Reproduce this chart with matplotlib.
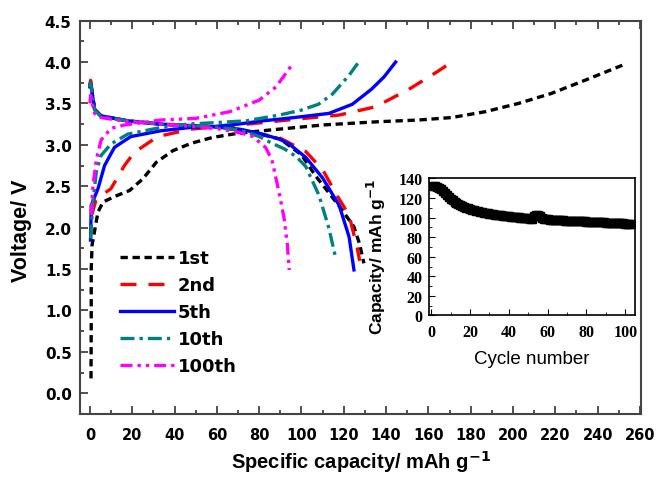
import matplotlib
matplotlib.use("Agg")
import matplotlib.pyplot as plt
from matplotlib.ticker import MultipleLocator

plt.rcParams['font.family'] = ['Liberation Sans', 'DejaVu Sans']
plt.rcParams['mathtext.default'] = 'bf'

# 충방전 곡선 데이터
cap_1st_c = [0.5, 0.6, 0.6, 1.0, 3.8, 6.2, 12, 18.8, 25, 31.4, 39.2, 48, 58, 70, 81.5, 89.5, 110, 136.6, 155.4, 171, 186.8, 202.5, 218, 234, 253.5]
v_1st_c = [0.18, 0.8, 1.5, 1.79, 2.19, 2.31, 2.38, 2.45, 2.59, 2.79, 2.93, 3.02, 3.09, 3.14, 3.17, 3.19, 3.24, 3.28, 3.30, 3.33, 3.40, 3.50, 3.62, 3.78, 3.98]
cap_1st_d = [0, 0.3, 2.2, 5.2, 17.9, 33.5, 58, 73.8, 90, 100, 106.8, 113, 119, 124.8, 127.5, 129.5]
v_1st_d = [3.7, 3.76, 3.43, 3.35, 3.29, 3.25, 3.22, 3.17, 3.07, 2.88, 2.62, 2.42, 2.22, 2.01, 1.8, 1.57]

cap_2nd_c = [0.8, 2.8, 6, 9.9, 16.3, 21, 32, 47.6, 66, 82, 97.4, 117.8, 135, 150.7, 164, 171]
v_2nd_c = [2.15, 2.33, 2.4, 2.47, 2.75, 2.91, 3.1, 3.19, 3.23, 3.27, 3.31, 3.36, 3.46, 3.67, 3.88, 4.0]
cap_2nd_d = [0, 0.3, 2.2, 5.2, 17.9, 33.5, 58, 73.8, 90, 102, 110, 117, 122.5, 126.4, 127.5]
v_2nd_d = [3.72, 3.78, 3.43, 3.35, 3.29, 3.25, 3.22, 3.17, 3.08, 2.92, 2.7, 2.38, 2.15, 1.75, 1.6]

cap_5th_c = [0.3, 0.6, 3.8, 6.9, 11.6, 19.3, 33.5, 47.6, 58, 70, 81.5, 89.5, 100, 113, 124, 133, 139, 144.5]
v_5th_c = [1.85, 2.27, 2.47, 2.75, 2.97, 3.1, 3.17, 3.21, 3.22, 3.25, 3.29, 3.31, 3.34, 3.38, 3.49, 3.67, 3.82, 4.0]
cap_5th_d = [0, 0.3, 2.2, 5.2, 17.9, 33.5, 58, 70.7, 80, 89.5, 94.2, 102, 110, 117.8, 122.5, 124.8]
v_5th_d = [3.7, 3.75, 3.43, 3.35, 3.29, 3.25, 3.22, 3.19, 3.14, 3.07, 3.01, 2.85, 2.6, 2.27, 1.89, 1.49]

cap_10th_c = [0.3, 1.4, 3, 5.2, 9.9, 17.9, 33.5, 46, 60, 73.8, 89.5, 100, 108, 114.5, 122.5, 127]
v_10th_c = [1.87, 2.31, 2.67, 2.87, 3.01, 3.13, 3.21, 3.25, 3.27, 3.29, 3.36, 3.42, 3.49, 3.61, 3.84, 4.0]
cap_10th_d = [0, 0.3, 2.2, 5.2, 17.9, 33.5, 58, 70.7, 80, 86, 92, 97.4, 102, 108.3, 113, 116.2]
v_10th_d = [3.7, 3.75, 3.42, 3.34, 3.29, 3.25, 3.22, 3.18, 3.1, 3.02, 2.95, 2.86, 2.74, 2.39, 1.99, 1.63]

cap_100th_c = [0.6, 1.4, 3, 5.3, 10, 16.3, 33.5, 50, 66, 80, 88, 95.6]
v_100th_c = [2.15, 2.5, 2.82, 3.06, 3.2, 3.24, 3.3, 3.32, 3.4, 3.54, 3.7, 3.97]
cap_100th_d = [0, 0.3, 2.2, 5.2, 17.9, 33.5, 50, 62, 72, 77, 83, 86, 88, 90, 91.8, 93.3, 94.2]
v_100th_d = [3.5, 3.6, 3.38, 3.33, 3.28, 3.25, 3.22, 3.19, 3.14, 3.10, 2.97, 2.82, 2.59, 2.35, 2.11, 1.8, 1.49]

# 사이클 수명 데이터 (inset)
cycles = list(range(1, 104))
capacity = [132, 132, 131, 130, 129, 127, 125, 123, 121, 119,
            118, 116, 115, 114, 113, 112, 111, 110, 109.5, 109,
            108, 107.5, 107, 106.5, 106, 105.5, 105, 104.6, 104.3, 104,
            103.7, 103.4, 103.1, 102.8, 102.5, 102.2, 102, 101.7, 101.4, 101.2,
            101, 100.7, 100.5, 100.3, 100.1, 99.9, 99.7, 99.5, 99.3, 99.2,
            99, 99, 102, 103, 103, 102, 100, 98.5, 98.3, 98.1,
            98, 97.9, 97.8, 97.6, 97.5, 97.4, 97.2, 97.1, 97, 96.9,
            96.8, 96.7, 96.6, 96.5, 96.4, 96.3, 96.2, 96.1, 96, 95.9,
            95.8, 95.7, 95.6, 95.5, 95.4, 95.3, 95.2, 95.1, 95, 94.9,
            94.8, 94.7, 94.6, 94.5, 94.4, 94.3, 94.2, 94.1, 94, 93.9,
            93.8, 93.7, 93.6]

xticks_main = list(range(0, 261, 20))
yticks_main = [0.0, 0.5, 1.0, 1.5, 2.0, 2.5, 3.0, 3.5, 4.0, 4.5]

fig = plt.figure(figsize=(6.59, 4.81), dpi=100)
ax = fig.add_axes([0.1214, 0.1372, 0.8513, 0.8178])

lw = 2.4
styles = [
    ('1st', cap_1st_c, v_1st_c, cap_1st_d, v_1st_d, 'black', (0, (2.2, 1.4))),
    ('2nd', cap_2nd_c, v_2nd_c, cap_2nd_d, v_2nd_d, '#FF0000', (0, (4.8, 3.6))),
    ('5th', cap_5th_c, v_5th_c, cap_5th_d, v_5th_d, '#0000FF', '-'),
    ('10th', cap_10th_c, v_10th_c, cap_10th_d, v_10th_d, '#008080', (0, (4.2, 1.5, 1, 1.5))),
    ('100th', cap_100th_c, v_100th_c, cap_100th_d, v_100th_d, '#FF00FF', (0, (3.6, 1.5, 1, 1.5, 1, 1.5))),
]
for name, xc, yc, xd, yd, col, ls in styles:
    ax.plot(xc, yc, color=col, ls=ls, lw=lw, label=name)
    ax.plot(xd, yd, color=col, ls=ls, lw=lw)

ax.set_xlim(-4.7, 260.5)
ax.set_ylim(-0.25, 4.5)
ax.set_xticks(xticks_main)
ax.set_yticks(yticks_main)
ax.set_yticklabels([f'{v:.1f}' for v in yticks_main])
ax.xaxis.set_minor_locator(MultipleLocator(10))
ax.yaxis.set_minor_locator(MultipleLocator(0.25))
ax.tick_params(which='both', direction='in', top=True, right=False, width=1.2, colors='#333333', labelcolor='black')
ax.tick_params(which='major', length=6)
ax.tick_params(which='minor', length=3)
ax.tick_params(axis='x', pad=9)
ax.tick_params(axis='y', pad=6)
for lab in ax.get_xticklabels():
    lab.set_fontfamily('DejaVu Sans')
    lab.set_fontweight('bold')
    lab.set_fontsize(10.5)
for lab in ax.get_yticklabels():
    lab.set_fontfamily('DejaVu Sans')
    lab.set_fontweight('bold')
    lab.set_fontsize(11)
for sp in ax.spines.values():
    sp.set_linewidth(1.5)
    sp.set_color('#444444')

ax.set_xlabel('Specific capacity/ mAh g$^{-1}$', fontsize=14.5, fontweight='bold', labelpad=5)
ax.set_ylabel('Voltage/ V', fontsize=15.5, fontweight='bold')
ax.yaxis.set_label_coords(-0.085, 0.468)

leg = ax.legend(loc='upper left', bbox_to_anchor=(0.059, 0.437), frameon=False,
                prop={'family': 'DejaVu Sans', 'weight': 'bold', 'size': 13},
                handlelength=2.95, labelspacing=0.5, handletextpad=0.22,
                borderaxespad=0)

# inset: 사이클 특성
ins = fig.add_axes([0.6514, 0.342, 0.3122, 0.285])
ins.plot(cycles, capacity, color='black', marker='s', ms=6, lw=1)
ins.set_xlim(-1, 105)
ins.set_ylim(0, 140)
ins.set_xticks(range(0, 101, 20))
ins.set_yticks(range(0, 141, 20))
ins.xaxis.set_minor_locator(MultipleLocator(10))
ins.yaxis.set_minor_locator(MultipleLocator(10))
ins.tick_params(which='both', direction='in', labelsize=11.5)
ins.tick_params(which='major', length=4)
ins.tick_params(which='minor', length=2)
ins.tick_params(axis='x', pad=6)
ins.tick_params(axis='y', pad=5)
for lab in ins.get_xticklabels() + ins.get_yticklabels():
    lab.set_fontfamily('Liberation Serif')
    lab.set_fontweight('bold')
for sp in ins.spines.values():
    sp.set_linewidth(1.2)
ins.set_xlabel('Cycle number', fontsize=13.5, labelpad=7)
ins.set_ylabel('Capacity/ mAh g$^{-1}$', fontsize=12.5, fontweight='bold')
ins.yaxis.set_label_coords(-0.2, 0.434)

fig.savefig('out.png', dpi=100)
